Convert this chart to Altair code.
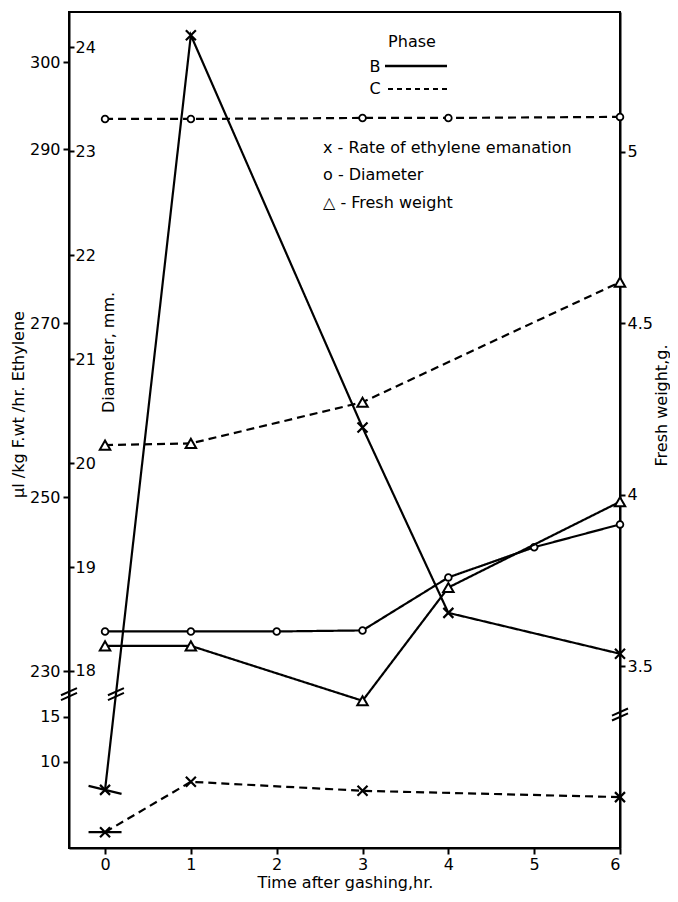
import altair as alt
import pandas as pd

# ---------------- data ----------------
# time after gashing, hr
eth_B_t = [0, 1, 3, 4, 6]
eth_B_v = [6.9, 303.1, 258.0, 236.7, 232.0]      # ul/kg F.wt/hr, phase B
eth_C_t = [0, 1, 3, 6]
eth_C_v = [2.2, 7.8, 6.8, 6.1]                   # phase C

dia_B_t = [0, 1, 2, 3, 4, 5, 6]
dia_B_v = [18.38, 18.38, 18.38, 18.39, 18.90, 19.19, 19.41]   # mm
dia_C_t = [0, 1, 3, 4, 6]
dia_C_v = [23.31, 23.31, 23.32, 23.32, 23.33]

fw_B_t = [0, 1, 3, 4, 6]
fw_B_v = [3.56, 3.56, 3.40, 3.73, 3.98]          # g
fw_C_t = [0, 1, 3, 6]
fw_C_v = [4.145, 4.15, 4.27, 4.62]

x_ticks = [0, 1, 2, 3, 4, 5, 6]
eth_upper_ticks = [300, 290, 270, 250, 230]
eth_lower_ticks = [15, 10]
dia_ticks = [18, 19, 20, 21, 22, 23, 24]
fw_ticks = [3.5, 4, 4.5, 5]
fw_break_value = 3.36

phases = ["B", "C"]
legend_title = "Phase"
legend_markers = ["x - Rate of ethylene emanation", "o - Diameter", "\u25b3 - Fresh weight"]

x_title = "Time after gashing,hr."
eth_title = "\u00b5l /kg F.wt /hr. Ethylene"
dia_title = "Diameter, mm."
fw_title = "Fresh weight,g."

# ---------------- scale setup ----------------
W, H = 551, 836
X_DOM = [-0.42, 6.0]
ETH_DOM = [209.67, 305.77]
DIA_DOM = [16.297, 24.339]
FW_DOM = [2.971, 5.407]
# ethylene axis break: lower band value v drawn at LOW_A + LOW_B*v
LOW_A, LOW_B, LOWER_MAX = 209.21, 1.0346, 50
eth_break_disp = (min(eth_upper_ticks) + LOW_A + LOW_B * max(eth_lower_ticks)) / 2
eth_tick_disp = eth_upper_ticks + [LOW_A + LOW_B * v for v in eth_lower_ticks]

FONT = "DejaVu Sans"
XPATH = "M-1,-1L1,1M1,-1L-1,1"
BREAKPATH = "M-1,0.15L1,-0.75M-1,0.75L1,-0.15"
LW = 2.2

def frame(ts, vs, phase):
    return pd.DataFrame({"t": ts, "v": vs, "phase": phase})

eth = pd.concat([frame(eth_B_t, eth_B_v, "B"), frame(eth_C_t, eth_C_v, "C")], ignore_index=True)
dia = pd.concat([frame(dia_B_t, dia_B_v, "B"), frame(dia_C_t, dia_C_v, "C")], ignore_index=True)
fw = pd.concat([frame(fw_B_t, fw_B_v, "B"), frame(fw_C_t, fw_C_v, "C")], ignore_index=True)

x_scale = alt.Scale(domain=X_DOM, nice=False, zero=False)
x_enc = alt.X("t:Q", scale=x_scale, axis=alt.Axis(
    values=x_ticks, format="d", tickSize=6, labelPadding=2, title=x_title,
    titleX=276, titleY=39, titleBaseline="alphabetic", titleAnchor="middle"))
x_plain = alt.X("t:Q", scale=x_scale)

dash = alt.StrokeDash("phase:N", scale=alt.Scale(domain=phases, range=[[1, 0], [8, 5]]), legend=None)

# ---------------- ethylene layer ----------------
eth_scale = alt.Scale(domain=ETH_DOM, nice=False, zero=False)
eth_axis = alt.Axis(
    orient="left", values=eth_tick_disp, tickSize=6, labelPadding=3,
    labelExpr=f"datum.value > {eth_break_disp} ? datum.label : format((datum.value - {LOW_A}) / {LOW_B}, '.0f')",
    title=eth_title, titleAngle=270, titleX=-51, titleY=392, titleBaseline="middle", titleAlign="center")

eth_base = alt.Chart(eth).transform_calculate(
    yd=f"datum.v > {LOWER_MAX} ? datum.v : {LOW_A} + {LOW_B} * datum.v")
eth_y = alt.Y("yd:Q", scale=eth_scale)

eth_lines = eth_base.mark_line(color="black", strokeWidth=LW).encode(
    x=x_enc, y=alt.Y("yd:Q", scale=eth_scale, axis=eth_axis), strokeDash=dash, detail="phase:N")
eth_pts = eth_base.mark_point(shape=XPATH, size=100, filled=False, color="black",
                              strokeWidth=2.2, opacity=1).encode(x=x_plain, y=eth_y)
eth_t0 = eth_base.transform_filter("datum.t == 0").mark_point(
    size=1089, filled=False, color="black", strokeWidth=2.2, opacity=1).encode(
    x=x_plain, y=eth_y,
    shape=alt.Shape("phase:N", scale=alt.Scale(domain=phases, range=["M-1,-0.24L1,0.24", "M-1,0L1,0"]), legend=None))

# break marks: on the left axis, on the phase-B ethylene line
b0, b1 = LOW_A + LOW_B * eth_B_v[0], eth_B_v[1]
t_cross = eth_B_t[0] + (eth_break_disp - b0) / (b1 - b0) * (eth_B_t[1] - eth_B_t[0])
breaks = pd.DataFrame({"t": [X_DOM[0], t_cross], "yd": [eth_break_disp, eth_break_disp]})
eth_breaks = alt.Chart(breaks).mark_point(shape=BREAKPATH, size=256, filled=False, color="black",
                                          strokeWidth=2, opacity=1).encode(x=x_plain, y=eth_y)

eth_layer = alt.layer(eth_lines, eth_pts, eth_t0, eth_breaks)

# ---------------- diameter layer ----------------
dia_scale = alt.Scale(domain=DIA_DOM, nice=False, zero=False)
dia_axis = alt.Axis(
    orient="right", offset=-W, values=dia_ticks, format="d", tickSize=5, labelPadding=1,
    domain=False, title=dia_title, titleAngle=270, titleX=39, titleY=340,
    titleBaseline="middle", titleAlign="center")
dia_y = alt.Y("v:Q", scale=dia_scale)
dia_lines = alt.Chart(dia).mark_line(color="black", strokeWidth=LW).encode(
    x=x_plain, y=alt.Y("v:Q", scale=dia_scale, axis=dia_axis), strokeDash=dash, detail="phase:N")
dia_pts = alt.Chart(dia).mark_point(shape="circle", size=45, filled=True, fill="white",
                                    stroke="black", strokeWidth=1.8, opacity=1).encode(x=x_plain, y=dia_y)
dia_layer = alt.layer(dia_lines, dia_pts)

# ---------------- fresh weight layer ----------------
fw_scale = alt.Scale(domain=FW_DOM, nice=False, zero=False)
fw_axis = alt.Axis(
    orient="right", values=fw_ticks, tickSize=5, labelPadding=2, labelExpr="'' + datum.value",
    title=fw_title, titleAngle=270, titleX=41, titleY=393, titleBaseline="middle", titleAlign="center")
fw_y = alt.Y("v:Q", scale=fw_scale)
fw_lines = alt.Chart(fw).mark_line(color="black", strokeWidth=LW).encode(
    x=x_plain, y=alt.Y("v:Q", scale=fw_scale, axis=fw_axis), strokeDash=dash, detail="phase:N")
fw_pts = alt.Chart(fw).mark_point(shape="triangle-up", size=110, filled=True, fill="white",
                                  stroke="black", strokeWidth=2, opacity=1).encode(x=x_plain, y=fw_y)
fw_brk = alt.Chart(pd.DataFrame({"t": [X_DOM[1]], "v": [fw_break_value]})).mark_point(
    shape=BREAKPATH, size=256, filled=False, color="black", strokeWidth=2, opacity=1).encode(
    x=x_plain, y=fw_y)
fw_layer = alt.layer(fw_lines, fw_pts, fw_brk)

# ---------------- hand-drawn legend ----------------
one = pd.DataFrame({"k": [0]})
def txt(s, x, y, align="left", size=16):
    return alt.Chart(one).mark_text(text=s, font=FONT, fontSize=size, align=align,
                                    baseline="middle", color="black").encode(
        x=alt.value(x), y=alt.value(y))

leg = [
    txt(legend_title, 343, 30, "center"),
    txt(phases[0], 306, 55, "center"),
    txt(phases[1], 306, 77, "center"),
    alt.Chart(one).mark_rule(color="black", strokeWidth=2.5).encode(
        x=alt.value(316), x2=alt.value(378), y=alt.value(54)),
    alt.Chart(one).mark_rule(color="black", strokeWidth=2, strokeDash=[5, 4]).encode(
        x=alt.value(319), x2=alt.value(378), y=alt.value(77)),
    txt(legend_markers[0], 254, 136),
    txt(legend_markers[1], 254, 163),
    txt(legend_markers[2], 254, 191),
]
legend_layer = alt.layer(*leg)

chart = alt.layer(eth_layer, dia_layer, fw_layer, legend_layer).resolve_scale(
    y="independent"
).properties(
    width=W, height=H, autosize=alt.AutoSizeParams(type="none"),
    padding={"left": 61, "top": 4, "right": 50, "bottom": 44}
).configure(font=FONT).configure_view(
    stroke="black", strokeWidth=2
).configure_axis(
    grid=False, domainColor="black", domainWidth=2, tickColor="black", tickWidth=2,
    labelColor="black", labelFont=FONT, labelFontSize=16, titleFont=FONT,
    titleFontSize=16, titleFontWeight="normal", titleColor="black"
)

chart.save("out.html", embed_options={"renderer": "svg", "actions": False})
